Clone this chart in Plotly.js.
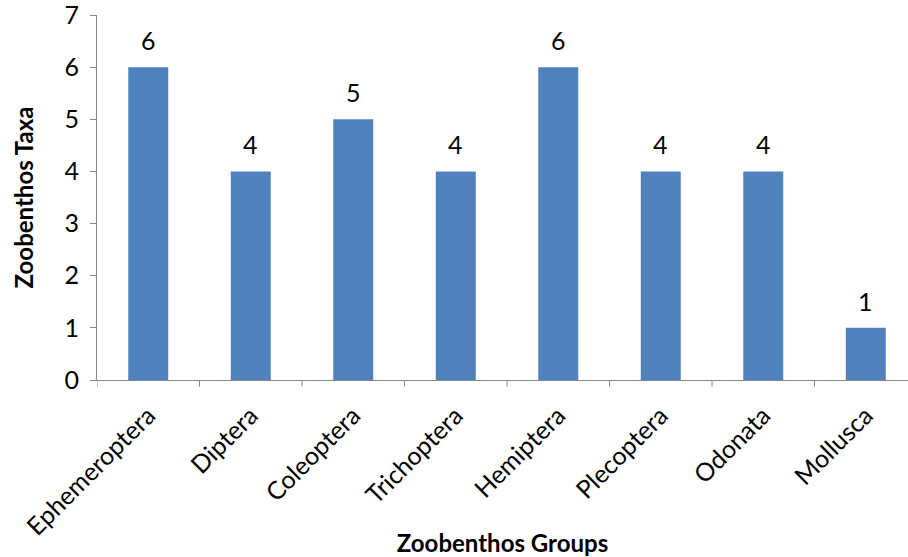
<!DOCTYPE html>
<html>
<head>
<meta charset="utf-8">
<script src="https://cdn.plot.ly/plotly-3.0.1.min.js"></script>
<style>html,body{margin:0;padding:0;background:#fff;}#chart{width:908px;height:557px;}</style>
</head>
<body>
<div id="chart"></div>
<script>
const categories = ["Ephemeroptera", "Diptera", "Coleoptera", "Trichoptera", "Hemiptera", "Plecoptera", "Odonata", "Mollusca"];
const taxaCounts = [6, 4, 5, 4, 6, 4, 4, 1];
const yTickValues = [0, 1, 2, 3, 4, 5, 6, 7];

const FONT = "Lato, 'Open Sans', sans-serif";

const trace = {
  type: "bar",
  x: categories,
  y: taxaCounts,
  marker: { color: "#4F81BD", line: { width: 0 } },
  hoverinfo: "x+y"
};

const annotations = categories.map((c, i) => ({
  x: c, y: taxaCounts[i], xref: "x", yref: "y",
  text: String(taxaCounts[i]), showarrow: false,
  yanchor: "bottom", yshift: 10,
  font: { family: FONT, size: 25, color: "#000" }
}));

const layout = {
  width: 908, height: 557,
  margin: { l: 97, r: 0, t: 15, b: 177, pad: 0 },
  paper_bgcolor: "#fff", plot_bgcolor: "#fff",
  showlegend: false,
  bargap: 0.61,
  font: { family: FONT, size: 25, color: "#000" },
  xaxis: {
    type: "category",
    range: [-0.5, 7.412],
    showgrid: false, zeroline: false,
    showline: true, linecolor: "#868686", linewidth: 1,
    ticks: "", tickangle: -45,
    ticklabelstandoff: 10,
    ticklabeloverflow: "allow",
    tickfont: { family: FONT, size: 25, color: "#000" },
    title: { text: "<b>Zoobenthos Groups</b>", font: { family: FONT, size: 24, color: "#000" }, standoff: 10 },
    fixedrange: true
  },
  yaxis: {
    range: [0, 7],
    tickvals: yTickValues,
    showgrid: false, zeroline: false,
    showline: true, linecolor: "#868686", linewidth: 1,
    ticks: "outside", ticklen: 6, tickcolor: "#868686",
    ticklabelstandoff: 6,
    ticklabeloverflow: "allow",
    tickfont: { family: FONT, size: 25, color: "#000" },
    title: { text: "<b>Zoobenthos Taxa</b>", font: { family: FONT, size: 24, color: "#000" }, standoff: 24 },
    fixedrange: true
  },
  annotations: annotations,
  shapes: categories.map((c, i) => ({
    type: "line", xref: "x", yref: "paper",
    x0: i - 0.5, x1: i - 0.5, y0: 0, y1: -0.018,
    line: { color: "#868686", width: 1 }
  }))
};

Plotly.newPlot("chart", [trace], layout, { displayModeBar: false, staticPlot: true });
</script>
</body>
</html>
